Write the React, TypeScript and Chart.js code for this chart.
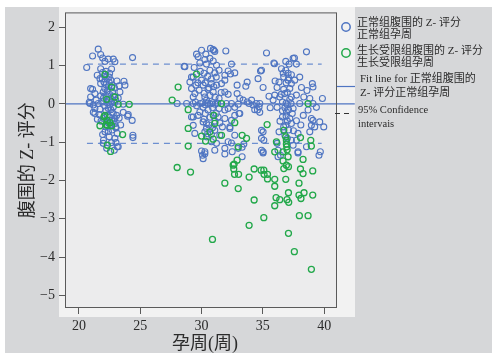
import { useEffect, useRef } from 'react';
import { Chart, registerables } from 'chart.js';

Chart.register(...registerables);

// ---- data ----
const xTicks = [20, 25, 30, 35, 40];
const yTicks = [-5, -4, -3, -2, -1, 0, 1, 2];
const xMin = 18.86;
const xMax = 41.05;
const yMin = -5.33;
const yMax = 2.39;

const fitZ = 0;
const fitStart = 18.86;
const fitEnd = 42.5;
const ciUpper = 1.04;
const ciLower = -1.03;
const ciStart = 20.65;
const ciEnd = 39.8;

const normalLabel = ['正常组腹围的 Z- 评分', '正常组孕周'];
const restrictedLabel = ['生长受限组腹围的 Z- 评分', '生长受限组孕周'];
const fitLabel = ['Fit line for 正常组腹围的', 'Z- 评分正常组孕周'];
const ciLabel = ['95% Confidence', 'intervais'];
const yTitle = '腹围的 Z- 评分';
const xTitle = '孕周(周)';

// [gestational week, z-score]
const normalEarly: [number, number][] = [
  [21.57, 1.43], [21.11, 1.25], [21.77, 1.29], [21.93, 1.2], [22.12, 1.11], [22.39, 1.17], [22.8, 1.17],
  [22.93, 1.1], [24.37, 1.21], [20.63, 0.95], [21.77, 0.92], [22.66, 0.91], [21.49, 0.75], [21.93, 0.82],
  [21.71, 0.66], [22.47, 0.7], [22.04, 0.57], [21.77, 0.53], [22.47, 0.56], [23.28, 0.47], [23.75, 0.49],
  [23.67, 0.59], [21.11, 0.38], [20.95, 0.4], [21.3, 0.27], [21.98, 0.31], [22.74, 0.31], [23.34, 0.31],
  [20.95, 0.18], [21.77, 0.21], [20.84, 0.04], [20.9, 0.01], [21.17, -0.03], [21.57, 0.01], [21.93, 0.05],
  [22.66, 0.05], [22.8, -0.08], [23.61, -0.01], [21.3, -0.12], [21.71, -0.14], [21.17, -0.22], [21.65, -0.28],
  [21.3, -0.25], [22.8, -0.25], [23.07, -0.3], [22.93, -0.38], [23.28, -0.37], [23.61, -0.22], [23.97, -0.32],
  [24.34, -0.43], [24.02, -0.28], [22.66, -0.43], [22.12, -0.73], [21.93, -0.8], [23.02, -0.63], [23.12, -0.77],
  [22.47, -0.86], [22.93, -0.9], [24.4, -0.82], [24.4, -0.88], [21.98, -1.03], [22.66, -1.01], [23.02, -1.01],
  [23.12, -1.12], [22.26, -1.16], [22.88, -1.21], [23.2, -1.12],
  [22.2, 0.85], [22.5, 0.8], [22.1, 0.72], [22.3, 0.65], [22.6, 0.62], [22.2, 0.5], [22.4, 0.45], [22.7, 0.48],
  [22.1, 0.4], [22.9, 0.42], [22.3, 0.33], [22.5, 0.25], [22.2, 0.22], [22.8, 0.2], [22.0, 0.15], [22.4, 0.12],
  [22.6, 0.14], [22.3, 0.03], [22.5, -0.02], [22.1, -0.05], [22.9, 0.03], [22.4, -0.12], [22.2, -0.18],
  [22.6, -0.15], [22.7, -0.22], [22.3, -0.3], [22.5, -0.35], [22.0, -0.38], [22.8, -0.45], [22.4, -0.5],
  [22.6, -0.55], [22.9, -0.52], [22.2, -0.6], [22.7, -0.68], [22.4, -0.72], [23.0, -0.6], [21.8, -0.45],
  [21.9, 0.65], [23.1, 0.6], [23.0, 0.1], [23.2, 0.15], [21.4, 0.1], [21.5, -0.4], [23.4, -0.55], [22.0, -0.95],
];

const normalMid: [number, number][] = [
  [30.0, 1.4], [30.73, 1.45], [31.0, 1.4], [31.98, 1.38], [30.95, 1.42], [31.08, 1.37], [29.59, 1.3],
  [30.35, 1.3], [30.27, 1.16], [30.68, 1.19], [30.95, 1.12], [29.86, 1.07], [28.58, 0.98], [28.64, 0.97],
  [29.4, 0.95], [30.4, 1.04], [31.22, 1.01], [32.44, 1.04], [29.72, 1.23], [30.68, 0.88], [31.08, 0.81],
  [31.43, 0.88], [32.17, 0.86], [32.36, 0.78], [31.9, 0.75], [32.71, 0.81], [29.32, 0.7], [29.18, 0.7],
  [30.0, 0.62], [29.05, 0.57], [30.13, 0.49], [29.54, 0.49], [30.81, 0.53], [31.22, 0.49], [31.63, 0.53],
  [31.9, 0.62], [32.9, 0.49], [33.72, 0.57], [33.61, 0.46], [29.18, 0.4], [29.8, 0.36], [30.53, 0.38],
  [30.95, 0.31], [31.9, 0.31], [32.17, 0.25], [32.9, 0.27], [33.12, 0.14], [29.32, 0.18], [29.46, 0.27],
  [30.27, 0.18], [31.43, 0.14], [34.08, 0.1], [28.01, 0.01], [28.78, 0.01], [29.32, 0.01], [29.5, 0.05],
  [29.9, 0.01], [30.1, 0.03], [30.3, -0.02], [30.5, 0.02], [30.7, 0.0], [30.9, 0.03], [31.1, -0.01],
  [31.3, 0.02], [32.03, 0.01], [32.44, 0.01], [32.99, -0.01], [33.39, 0.1], [33.72, 0.05], [33.88, 0.01],
  [34.2, -0.03], [34.48, 0.01], [34.75, 0.01], [34.89, 0.88], [30.13, -0.09], [30.53, -0.16], [29.86, -0.21],
  [31.43, -0.12], [31.9, -0.16], [32.17, -0.12], [32.71, -0.09], [34.34, -0.15], [34.75, -0.22], [33.12, -0.25],
  [32.71, -0.3], [29.32, -0.34], [29.18, -0.34], [29.72, -0.3], [30.95, -0.3], [31.35, -0.34], [31.9, -0.38],
  [30.13, -0.47], [30.4, -0.51], [31.49, -0.5], [32.44, -0.43], [33.06, -0.25], [30.4, -0.64], [31.08, -0.69],
  [32.31, -0.64], [32.31, -0.6], [29.32, -0.56], [29.45, -0.77], [30.27, -0.73], [30.4, -0.86], [31.49, -0.82],
  [32.71, -0.82], [34.89, -0.69], [34.89, -0.9], [30.81, -0.99], [31.22, -1.03], [32.17, -0.99], [32.44, -1.02],
  [32.99, -1.16], [33.31, -1.13], [30.0, -1.23], [30.27, -1.25], [31.08, -1.21], [30.08, -1.34], [33.31, -1.38],
  [31.9, -1.16], [30.13, -1.43], [30.27, -1.3], [31.9, -1.31], [34.89, -1.21], [33.45, -1.05], [32.5, -1.25],
  [30.2, 0.8], [30.5, 0.72], [30.8, 0.65], [30.3, 0.55], [30.6, 0.42], [31.0, 0.45], [30.2, 0.28], [30.7, 0.22],
  [31.1, 0.18], [30.4, 0.1], [30.9, -0.1], [30.3, -0.25], [30.7, -0.35], [31.1, -0.45], [30.6, -0.55],
  [30.9, -0.62], [30.2, -0.4], [30.5, -0.78], [30.8, -0.8], [31.2, -0.25], [31.2, 0.7], [29.9, 0.85],
  [31.6, 0.3], [31.7, -0.6], [29.6, -0.05], [29.7, 0.55],
];

const normalLate: [number, number][] = [
  [35.3, 1.33], [38.56, 1.36], [35.9, 1.07], [35.95, 1.05], [36.87, 1.11], [37.47, 1.19], [37.58, 1.2],
  [37.14, 1.04], [37.74, 1.04], [34.81, 0.86], [36.52, 0.92], [36.87, 0.88], [37.06, 0.8], [36.66, 0.8],
  [37.33, 0.76], [36.32, 0.57], [37.06, 0.62], [37.6, 0.62], [38.01, 0.7], [34.61, 0.66], [35.02, 0.43],
  [36.16, 0.43], [37.33, 0.53], [38.15, 0.43], [39.04, 0.53], [39.09, 0.44], [35.97, 0.23], [36.38, 0.18],
  [36.79, 0.27], [37.33, 0.18], [37.74, 0.23], [38.34, 0.18], [38.83, 0.14], [39.86, 0.14], [35.84, 0.1],
  [36.9, 0.02], [37.0, -0.02], [37.3, 0.01], [36.6, 0.05], [38.01, 0.01], [39.09, 0.01], [39.37, -0.09],
  [36.16, -0.09], [37.47, -0.12], [38.69, -0.16], [36.92, -0.21], [36.6, -0.34], [37.2, -0.38], [38.96, -0.38],
  [39.09, -0.43], [39.64, -0.47], [39.97, -0.6], [36.87, -0.56], [37.33, -0.51], [37.74, -0.44], [38.96, -0.56],
  [39.23, -0.6], [37.87, -0.77], [38.83, -0.73], [36.32, -0.73], [37.33, -0.95], [37.74, -0.95], [37.47, -1.08],
  [38.56, -1.12], [39.69, -1.25], [39.58, -1.34], [37.87, -1.25], [35.02, -1.25], [36.24, -1.21], [36.44, -1.34],
  [35.02, -0.73], [35.08, -0.95], [36.16, -1.03], [34.56, -0.16], [34.69, -0.08], [36.24, -1.38], [37.87, -1.28],
  [35.02, -1.28],
  [36.7, 0.7], [37.1, 0.68], [36.9, 0.55], [37.2, 0.4], [36.7, 0.38], [37.0, 0.3], [36.5, 0.25], [37.2, 0.12],
  [36.8, -0.1], [37.1, -0.15], [36.6, -0.18], [37.4, -0.25], [36.9, -0.32], [37.0, -0.45], [36.7, -0.6],
  [37.1, -0.68], [36.8, -0.82], [37.0, -0.9], [37.5, -0.7], [36.4, -0.45], [35.5, 0.2], [35.6, -0.1],
  [36.0, 0.6], [38.3, -0.3], [38.6, 0.35], [38.1, -0.55],
];

const restrictedEarly: [number, number][] = [
  [22.12, 0.77], [22.66, 0.44], [22.93, 0.18], [22.26, 0.12], [23.2, -0.01], [24.1, -0.01], [22.12, -0.3],
  [22.04, -0.34], [22.31, -0.43], [22.2, -0.54], [22.53, -0.49], [21.71, -0.57], [22.31, -0.56], [22.66, -0.57],
  [23.56, -0.8], [22.31, -1.08], [22.58, -1.24],
];

const restrictedLate: [number, number][] = [
  [29.59, 0.78], [28.09, 0.44], [27.6, 0.1], [28.91, -0.15], [28.91, -0.64], [28.91, -1.1], [30.0, -0.84],
  [30.68, -0.73], [31.0, -0.3], [31.08, -0.51], [31.63, 0.01], [31.63, -0.82], [30.95, -0.92], [30.33, -0.97],
  [32.71, -0.49], [33.31, -0.82], [33.67, -0.9], [32.99, -1.12], [32.66, -1.57], [35.35, -0.54], [36.11, -0.99],
  [35.97, -1.25], [36.71, -0.69], [36.87, -0.86], [36.92, -0.95], [36.92, -1.05], [36.95, -1.12], [36.98, -1.2],
  [36.65, -1.25], [37.06, -1.38], [38.07, -0.88], [38.91, -0.95], [38.96, -1.1], [38.69, 0.01],
  [28.01, -1.66], [29.1, -1.78], [31.9, -2.07], [32.58, -1.6], [32.63, -1.7], [32.69, -1.84], [32.9, -1.47],
  [33.02, -1.84], [32.99, -2.21], [33.88, -1.91], [34.29, -1.7], [34.29, -2.51], [33.88, -3.17], [30.89, -3.54],
  [34.86, -1.73], [35.08, -1.73], [35.1, -1.84], [35.38, -1.84], [35.38, -1.96], [35.08, -2.97], [35.97, -1.97],
  [35.97, -2.15], [35.97, -2.66], [36.08, -2.45], [36.38, -2.5], [36.87, -1.97], [36.65, -1.49], [36.92, -1.6],
  [37.09, -1.64], [36.71, -1.69], [37.09, -2.32], [36.97, -2.5], [37.11, -2.57], [37.09, -3.38], [37.57, -3.86],
  [37.95, -2.07], [37.95, -2.38], [37.98, -2.92], [38.11, -2.47], [38.07, -1.7], [38.28, -1.82], [38.28, -1.45],
  [38.36, -2.32], [38.69, -2.92], [39.07, -1.75], [39.07, -2.38], [38.96, -4.32],
];

// ---- styles ----
const BLUE = '#4f75c2';
const CI_BLUE = '#6d8fd0';
const GREEN = '#22a84a';
const TEXT = '#2b2b2b';
const FONT = "'Liberation Serif', 'Noto Sans CJK SC', serif";

const toXY = (arr: [number, number][]) => arr.map(([x, y]) => ({ x, y }));

const decorPlugin = {
  id: 'decor',
  beforeDraw(chart: any) {
    const { ctx, chartArea: a, width, height } = chart;
    ctx.save();
    ctx.fillStyle = '#ffffff';
    ctx.fillRect(0, 0, width, height);
    ctx.fillStyle = '#d6d7d9';
    ctx.fillRect(5, 7, width - 5, height - 7);
    ctx.fillStyle = '#f2f2f2';
    ctx.fillRect(a.left - 6, 7, a.right + 18 - (a.left - 6), a.bottom + 9 - 7);
    ctx.fillStyle = '#ececed';
    ctx.fillRect(a.left, a.top, a.right - a.left, a.bottom - a.top);
    ctx.restore();
  },
  afterDraw(chart: any) {
    const { ctx, chartArea: a } = chart;
    ctx.save();
    // frame
    ctx.strokeStyle = '#5a5a5a';
    ctx.lineWidth = 1;
    ctx.strokeRect(a.left + 0.5, a.top + 0.5, a.right - a.left - 1, a.bottom - a.top - 1);

    // axis titles
    ctx.fillStyle = TEXT;
    ctx.font = `18px ${FONT}`;
    ctx.textAlign = 'center';
    ctx.textBaseline = 'middle';
    ctx.fillText(xTitle, (a.left + a.right) / 2 + 4, 344);
    ctx.save();
    ctx.translate(28, (a.top + a.bottom) / 2);
    ctx.rotate(-Math.PI / 2);
    ctx.fillText(yTitle, 0, 0);
    ctx.restore();

    // legend
    const lx = a.right + 9;
    ctx.lineWidth = 1.5;
    ctx.strokeStyle = BLUE;
    ctx.beginPath();
    ctx.arc(lx, 27, 4.2, 0, Math.PI * 2);
    ctx.stroke();
    ctx.strokeStyle = GREEN;
    ctx.beginPath();
    ctx.arc(lx, 53, 4.2, 0, Math.PI * 2);
    ctx.stroke();
    ctx.strokeStyle = BLUE;
    ctx.lineWidth = 1.2;
    ctx.beginPath();
    ctx.moveTo(a.right, 86.5);
    ctx.lineTo(a.right + 18, 86.5);
    ctx.stroke();
    ctx.strokeStyle = '#333';
    ctx.lineWidth = 1.2;
    ctx.setLineDash([5, 4]);
    ctx.beginPath();
    ctx.moveTo(a.right - 2, 113.5);
    ctx.lineTo(a.right + 16, 113.5);
    ctx.stroke();
    ctx.setLineDash([]);

    ctx.fillStyle = TEXT;
    ctx.textAlign = 'left';
    ctx.textBaseline = 'middle';
    ctx.font = `11px ${FONT}`;
    const tx = a.right + 20;
    ctx.fillText(normalLabel[0], tx, 23);
    ctx.fillText(normalLabel[1], tx, 35);
    ctx.fillText(restrictedLabel[0], tx, 51);
    ctx.fillText(restrictedLabel[1], tx, 63);
    ctx.fillText(fitLabel[0], tx + 3, 79);
    ctx.fillText(fitLabel[1], tx + 3, 93);
    ctx.font = `10.5px ${FONT}`;
    ctx.fillText(ciLabel[0], tx + 1, 110);
    ctx.fillText(ciLabel[1], tx + 1, 124);
    ctx.restore();
  },
};

export default function App() {
  const ref = useRef<HTMLCanvasElement | null>(null);

  useEffect(() => {
    document.body.style.margin = '0';
    if (!ref.current) return;
    const chart = new Chart(ref.current, {
      type: 'scatter',
      data: {
        datasets: [
          {
            type: 'scatter',
            label: restrictedLabel.join(''),
            data: [...toXY(restrictedEarly), ...toXY(restrictedLate)],
            borderColor: GREEN,
            backgroundColor: 'rgba(0,0,0,0)',
            pointRadius: 3,
            pointBorderWidth: 1.3,
            order: 0,
          },
          {
            type: 'scatter',
            label: normalLabel.join(''),
            data: [...toXY(normalEarly), ...toXY(normalMid), ...toXY(normalLate)],
            borderColor: BLUE,
            backgroundColor: 'rgba(0,0,0,0)',
            pointRadius: 3,
            pointBorderWidth: 1.1,
            order: 1,
          },
          {
            type: 'line',
            label: fitLabel.join(''),
            data: [{ x: fitStart, y: fitZ }, { x: fitEnd, y: fitZ }],
            borderColor: BLUE,
            borderWidth: 1.2,
            pointRadius: 0,
            clip: false as any,
            order: 2,
          },
          {
            type: 'line',
            label: 'upper',
            data: [{ x: ciStart, y: ciUpper }, { x: ciEnd, y: ciUpper }],
            borderColor: CI_BLUE,
            borderWidth: 1.2,
            borderDash: [6, 5],
            pointRadius: 0,
            order: 3,
          },
          {
            type: 'line',
            label: 'lower',
            data: [{ x: ciStart, y: ciLower }, { x: ciEnd, y: ciLower }],
            borderColor: CI_BLUE,
            borderWidth: 1.2,
            borderDash: [6, 5],
            pointRadius: 0,
            order: 3,
          },
        ] as any,
      },
      options: {
        animation: false,
        responsive: false,
        devicePixelRatio: 1,
        layout: { padding: { left: 0, top: 12, right: 155, bottom: 0 } },
        plugins: { legend: { display: false }, tooltip: { enabled: false } },
        scales: {
          x: {
            type: 'linear',
            min: xMin,
            max: xMax,
            afterBuildTicks: (s: any) => {
              s.ticks = xTicks.map((v) => ({ value: v }));
            },
            afterFit: (s: any) => {
              s.height = 45;
            },
            border: { display: false },
            grid: { drawOnChartArea: false, drawTicks: true, tickLength: 6, color: '#5a5a5a' },
            ticks: { color: TEXT, font: { family: FONT, size: 14 }, padding: 4, maxRotation: 0 },
          },
          y: {
            type: 'linear',
            min: yMin,
            max: yMax,
            afterBuildTicks: (s: any) => {
              s.ticks = yTicks.map((v) => ({ value: v }));
            },
            afterFit: (s: any) => {
              s.width = 65;
            },
            border: { display: false },
            grid: { drawOnChartArea: false, drawTicks: true, tickLength: 6, color: '#5a5a5a' },
            ticks: {
              color: TEXT,
              font: { family: FONT, size: 14 },
              padding: 4,
              callback: (v: any) => (Number(v) < 0 ? '−' + Math.abs(Number(v)) : String(v)),
            },
          },
        },
      } as any,
      plugins: [decorPlugin],
    });
    return () => chart.destroy();
  }, []);

  return (
    <div style={{ position: 'absolute', left: 0, top: 0, width: 492, height: 353 }}>
      <canvas ref={ref} width={492} height={353} style={{ display: 'block' }} />
    </div>
  );
}
